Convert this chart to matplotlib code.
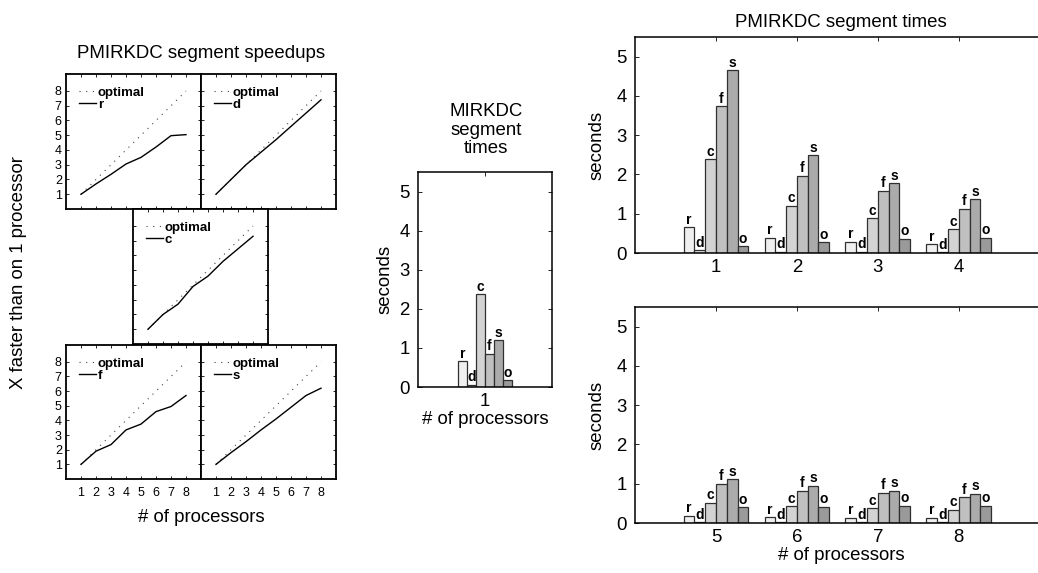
import matplotlib
matplotlib.use("Agg")
import matplotlib.pyplot as plt
import numpy as np

plt.rcParams["font.family"] = ["Liberation Sans", "DejaVu Sans"]

# ---- data -------------------------------------------------------------
procs = [1, 2, 3, 4, 5, 6, 7, 8]
optimal = [1, 2, 3, 4, 5, 6, 7, 8]

# speedup of each segment vs. number of processors
speedup_r = [1.0, 1.7, 2.35, 3.05, 3.5, 4.2, 4.97, 5.04]
speedup_d = [1.0, 2.0, 3.0, 3.85, 4.7, 5.6, 6.5, 7.4]
speedup_c = [1.0, 2.0, 2.7, 3.9, 4.6, 5.6, 6.45, 7.3]
speedup_f = [1.0, 1.9, 2.35, 3.35, 3.75, 4.6, 4.95, 5.7]
speedup_s = [1.0, 1.8, 2.55, 3.35, 4.1, 4.9, 5.7, 6.2]

segments = ["r", "d", "c", "f", "s", "o"]
segment_colors = ["#efefef", "#e2e2e2", "#d3d3d3", "#c0c0c0", "#ababab", "#9a9a9a"]

# sequential MIRKDC segment times (seconds)
mirkdc_times = [0.66, 0.06, 2.38, 0.85, 1.19, 0.17]

# PMIRKDC segment times (seconds) per processor count
pm_r = [0.66, 0.39, 0.29, 0.22, 0.19, 0.15, 0.14, 0.14]
pm_d = [0.07, 0.03, 0.03, 0.02, 0.02, 0.02, 0.02, 0.02]
pm_c = [2.39, 1.20, 0.88, 0.61, 0.52, 0.43, 0.37, 0.34]
pm_f = [3.74, 1.97, 1.59, 1.13, 1.00, 0.82, 0.77, 0.65]
pm_s = [4.66, 2.49, 1.77, 1.37, 1.12, 0.95, 0.82, 0.75]
pm_o = [0.18, 0.28, 0.36, 0.39, 0.40, 0.42, 0.44, 0.44]

# ---- figure -------------------------------------------------------------
W, H = 1038, 573
fig = plt.figure(figsize=(W / 100, H / 100), dpi=100)

BIG = 13.4


def px_axes(x, y, w, h):
    return fig.add_axes([x / W, 1 - (y + h) / H, w / W, h / H])


def px_text(x, y, s, **kw):
    fig.text(x / W, 1 - y / H, s, ha="center", va="center", **kw)


# ---- speedup panels -----------------------------------------------------
speed_panels = [
    ((66, 74, 135, 135), speedup_r, "r", True, False),
    ((201, 74, 135, 135), speedup_d, "d", False, False),
    ((133, 209, 135, 135), speedup_c, "c", False, False),
    ((66, 345, 135, 134), speedup_f, "f", True, True),
    ((201, 345, 135, 134), speedup_s, "s", False, True),
]

for rect, values, name, ylab, xlab in speed_panels:
    ax = px_axes(*rect)
    ax.plot(procs, optimal, color="#444444", lw=0.8,
            linestyle=(0, (1, 5)), label="optimal")
    ax.plot(procs, values, color="black", lw=1.0, label=name)
    ax.set_xlim(0, 9)
    ax.set_ylim(0, 9.15)
    ax.set_xticks(procs)
    ax.set_yticks(procs)
    ax.tick_params(direction="in", length=2.5, width=0.6,
                   top=True, right=True, labelsize=9)
    ax.tick_params(axis="x", pad=6)
    ax.tick_params(axis="y", pad=3)
    if not ylab:
        ax.set_yticklabels([])
    if not xlab:
        ax.set_xticklabels([])
    for sp in ax.spines.values():
        sp.set_linewidth(1.3)
    ax.legend(loc="upper left", frameon=False,
              prop={"weight": "bold", "size": 9.5},
              handlelength=1.3, handletextpad=0.15, labelspacing=0.0,
              borderpad=0.35, borderaxespad=0.6)

px_text(201, 54, "PMIRKDC segment speedups", fontsize=BIG)
px_text(201, 518, "# of processors", fontsize=BIG)
px_text(19, 273, "X faster than on 1 processor", fontsize=BIG, rotation=90)


# ---- bar panels ---------------------------------------------------------
def grouped_bars(ax, groups, series):
    n = len(series)
    width = 0.8 / n
    for i, (vals, col, lab) in enumerate(zip(series, segment_colors, segments)):
        xs = np.asarray(groups, dtype=float) + (i - (n - 1) / 2) * width
        bars = ax.bar(xs, vals, width=width, color=col,
                      edgecolor="#303030", linewidth=0.9, zorder=2)
        for b, v in zip(bars, vals):
            ax.annotate(lab, (b.get_x() + b.get_width() / 2, v),
                        xytext=(0, 0.3), textcoords="offset points",
                        ha="center", va="bottom", fontsize=10,
                        fontweight="bold", zorder=3)


def style_bar_axes(ax, xticks, xlim):
    ax.set_xlim(*xlim)
    ax.set_ylim(0, 5.5)
    ax.set_xticks(xticks)
    ax.set_yticks([0, 1, 2, 3, 4, 5])
    ax.tick_params(direction="in", length=3, width=0.6, top=True,
                   right=True, labelsize=BIG)
    ax.tick_params(axis="y", pad=6)
    ax.tick_params(axis="x", pad=4)
    for sp in ax.spines.values():
        sp.set_linewidth(1.1)


# sequential MIRKDC
ax_m = px_axes(418, 172, 134, 215)
grouped_bars(ax_m, [1], [[v] for v in mirkdc_times])
style_bar_axes(ax_m, [1], (0, 2))
ax_m.set_ylabel("seconds", fontsize=BIG, labelpad=4)
ax_m.set_xlabel("# of processors", fontsize=BIG, labelpad=1)
px_text(486, 130, "MIRKDC\nsegment\ntimes", fontsize=BIG, linespacing=1.15)

# PMIRKDC, 1-4 processors (right edge runs past the figure border)
pm_series = [pm_r, pm_d, pm_c, pm_f, pm_s, pm_o]
ax_t = px_axes(635, 37, 412, 216)
grouped_bars(ax_t, procs[:4], [s[:4] for s in pm_series])
style_bar_axes(ax_t, procs[:4], (0, 5.09))
ax_t.set_ylabel("seconds", fontsize=BIG, labelpad=8)
ax_t.set_title("PMIRKDC segment times", fontsize=BIG, pad=7)

# PMIRKDC, 5-8 processors
ax_b = px_axes(635, 307, 412, 216)
grouped_bars(ax_b, procs[4:], [s[4:] for s in pm_series])
style_bar_axes(ax_b, procs[4:], (4, 9.09))
ax_b.set_ylabel("seconds", fontsize=BIG, labelpad=8)
ax_b.set_xlabel("# of processors", fontsize=BIG, labelpad=1)

fig.savefig("out.png", dpi=100)
